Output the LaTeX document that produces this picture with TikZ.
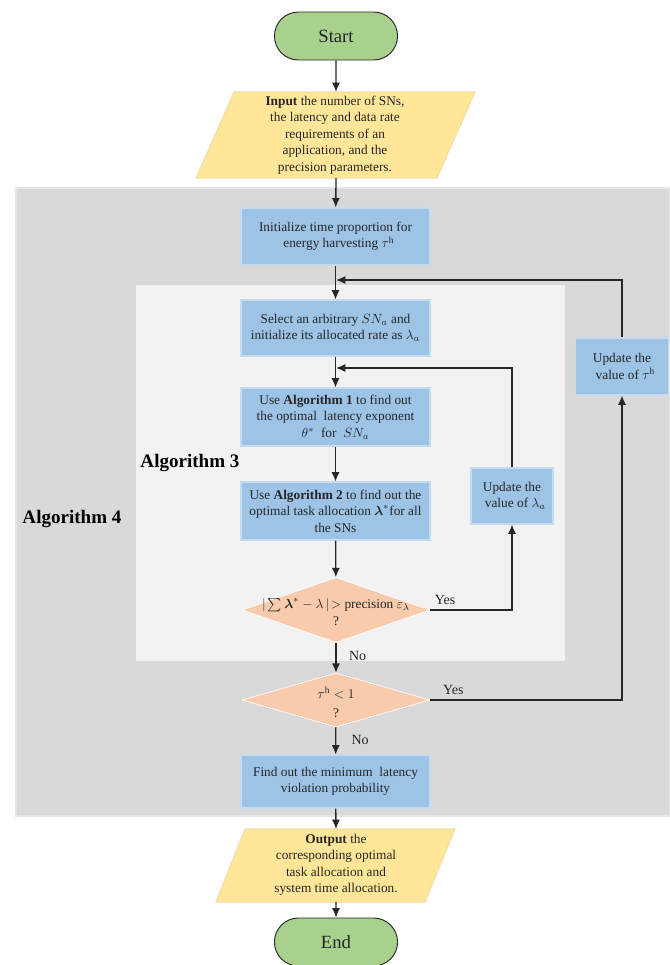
\documentclass[tikz,border=0pt]{standalone}
\usepackage{amsmath,amssymb}
\usepackage{fontspec}
\setmainfont{Liberation Serif}
\usetikzlibrary{shapes.misc,shapes.geometric,arrows.meta}
\definecolor{linec}{HTML}{262626}
\definecolor{termg}{HTML}{A9D18E}
\definecolor{iof}{HTML}{FFE699}
\definecolor{iob}{HTML}{F5DDA0}
\definecolor{procf}{HTML}{9DC3E6}
\definecolor{procb}{HTML}{C5DCEF}
\definecolor{decf}{HTML}{F8CBAD}
\definecolor{outer}{HTML}{D9D9D9}
\definecolor{outerb}{HTML}{E6E6E6}
\definecolor{inner}{HTML}{F2F2F2}
\begin{document}
\begin{tikzpicture}[x=0.75pt,y=-0.75pt,
  txt/.style={font=\fontsize{10}{12.3}\selectfont, text=linec, align=center},
  term/.style={rounded rectangle, draw=linec, line width=0.7pt, fill=termg,
    minimum width=99pt, minimum height=36pt, font=\fontsize{14}{16}\selectfont, text=linec},
  proc/.style={rectangle, draw=procb, line width=0.8pt, fill=procf,
    minimum width=141.75pt, txt},
  dec/.style={diamond, draw=white, line width=0.5pt, fill=decf, inner sep=0pt},
  conn/.style={draw=linec, line width=1pt},
  arr/.style={conn, -{Latex[length=7pt,width=6pt]}},
  lab/.style={font=\fontsize{10.5}{12}\selectfont, text=linec},
  alg/.style={font=\bfseries\fontsize{14.3}{16}\selectfont, text=black}]
\useasboundingbox (0,0) rectangle (670,965);
% regions
\fill[outer, draw=outerb, line width=0.8pt] (16,188) rectangle (670,816);
\fill[inner] (136,285) rectangle (565,661);
\node[alg] (alg3) at (190,463) {Algorithm 3};
\node[alg] (alg4) at (72,519) {Algorithm 4};
% start
\node[term] (start) at (336,36) {Start};
% input
\filldraw[fill=iof, draw=iob, line width=0.8pt] (234,92) -- (475,92) -- (437,178) -- (196,178) -- cycle;
\coordinate (int) at (336,92);
\coordinate (inb) at (336,178);
\node[txt] (input) at (335,135) {\textbf{Input} the number of SNs,\\the latency and data rate\\requirements of an\\application, and the\\precision parameters.};
% process boxes
\node[proc, minimum height=42.75pt] (init) at (335.5,236.5) {Initialize time proportion for\\ \ \ energy harvesting $\tau^{\mathrm{h}}$};
\node[proc, minimum height=42pt] (select) at (335.5,328) {Select an arbitrary $SN_a$ and\\ initialize its allocated rate as $\lambda_a$};
\node[proc, minimum height=43.5pt] (alg1) at (335.5,417) {Use \textbf{Algorithm 1} to find out\\the optimal\ \ latency exponent\\$\theta^{*}$\ \ for\ \ $SN_a$};
\node[proc, minimum height=43.5pt] (alg2) at (335.5,511) {Use \textbf{Algorithm 2} to find out the\\optimal task allocation $\boldsymbol{\lambda}^{*}$for all\\the SNs};
\node[dec, minimum width=141pt, minimum height=48.75pt] (d1) at (336,610) {};
\node[txt] (d1t) at (336,612) {$|\sum\boldsymbol{\lambda}^{*}-\lambda\,|\!>$ precision $\varepsilon_{\lambda}$\\?};
\node[proc, minimum width=61.5pt, minimum height=42pt] (updl) at (512,496) {Update the\\ \ \ value of $\lambda_a$};
\node[dec, minimum width=141pt, minimum height=40.5pt] (d2) at (336,700) {};
\node[txt] (d2t) at (336,702) {$\tau^{\mathrm{h}}<1$\\[2pt]?};
\node[proc, minimum width=69.75pt, minimum height=42.75pt] (updt) at (622,366.5) {Update the\\ \ \ value of $\tau^{\mathrm{h}}$};
\node[proc, minimum height=39.75pt] (find) at (335.5,781.5) {Find out the minimum\ \ latency\\violation probability};
% output
\filldraw[fill=iof, draw=iob, line width=0.8pt] (245,829) -- (455,829) -- (425,902) -- (216,902) -- cycle;
\coordinate (outt) at (336,829);
\coordinate (outb) at (336,902);
\node[txt] (output) at (336,865) {\textbf{Output} the\\corresponding optimal\\task allocation and\\system time allocation.};
\node[term] (end) at (336,942) {End};
% connectors
\coordinate (c1) at (336,368);
\coordinate (c2) at (336,280);
\draw[arr] (start) -- (int);
\draw[arr] (inb) -- (init);
\draw[arr] (init) -- (select);
\draw[arr] (select) -- (alg1);
\draw[arr] (alg1) -- (alg2);
\draw[arr] (alg2) -- (d1);
\draw[arr] (d1.east) -| node[lab, pos=0.09, above] (y1) {Yes} (updl.south);
\draw[arr] (updl.north) |- (c1);
\draw[arr] (d1) -- node[lab, right, pos=0.45, xshift=6pt] (n1) {No} (d2);
\draw[arr] (d2.east) -| node[lab, pos=0.06, above] (y2) {Yes} (updt.south);
\draw[arr] (updt.north) |- (c2);
\draw[arr] (d2) -- node[lab, right, pos=0.45, xshift=8pt] (n2) {No} (find);
\draw[arr] (find) -- (outt);
\draw[arr] (outb) -- (end);
\end{tikzpicture}
\end{document}
